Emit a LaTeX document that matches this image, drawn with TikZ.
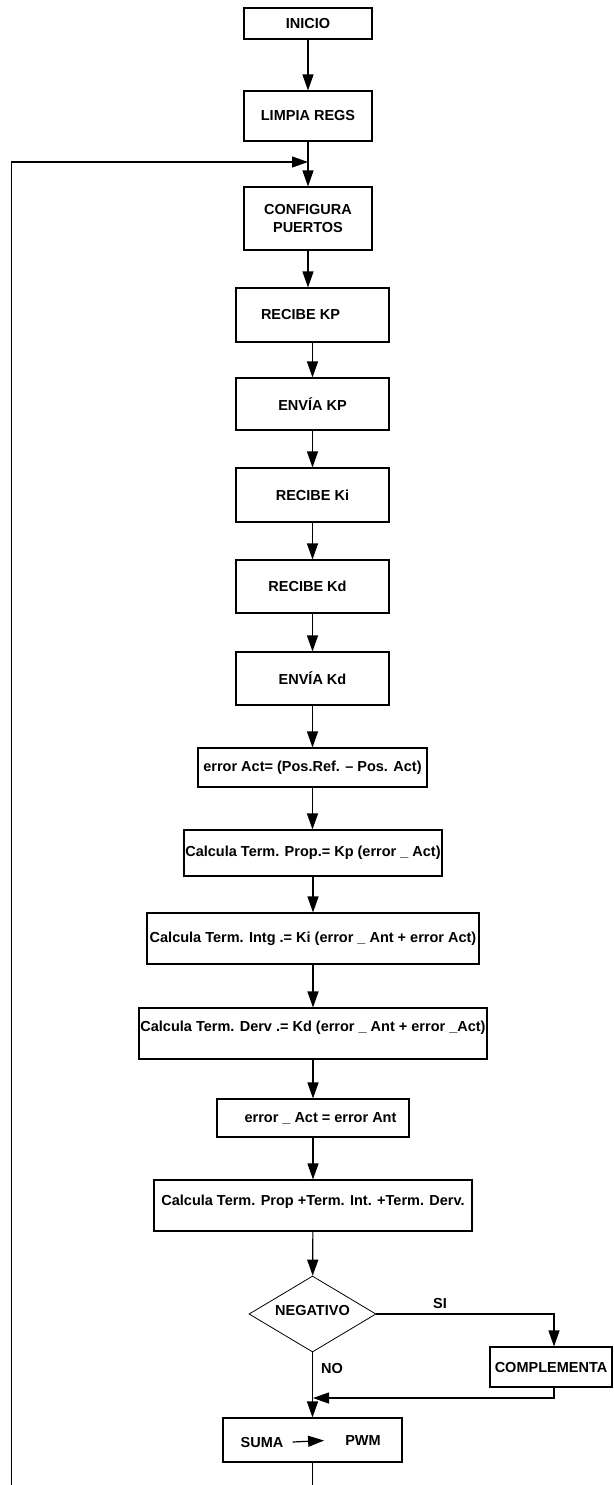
\documentclass[tikz,border=0pt]{standalone}
\usepackage{fontspec}
\setmainfont{Liberation Sans}
\usetikzlibrary{arrows.meta,shapes.geometric}
\newcommand{\upshift}[2]{\raisebox{#1}[\height][\depth]{#2}}
\tikzset{
  txt/.style={font=\fontsize{14.5}{17.5}\selectfont\bfseries, align=center},
  box/.style={draw, line width=1.1pt, inner sep=0pt, txt},
  plain/.style={inner sep=0pt, txt},
  ln/.style={line width=1.2pt},
  arr/.style={line width=1.2pt, -{Triangle[length=16pt,width=11pt]}}
}
\begin{document}
\begin{tikzpicture}[x=1pt,y=-1pt]
\useasboundingbox (0,0) rectangle (613,1485);
\fill[white] (0,0) rectangle (613,1485);
\begin{scope}
\clip (0,0) rectangle (613,1485);
% boxes
\node[box, minimum width=128pt, minimum height=31pt] (inicio) at (308,23.5) {INICIO};
\node[box, minimum width=128pt, minimum height=50pt] (limpia) at (308,116) {LIMPIA REGS};
\node[box, minimum width=128pt, minimum height=63pt] (config) at (308,218.5) {CONFIGURA\\PUERTOS};
\node[box, minimum width=153pt, minimum height=54pt] (recibekp) at (312.5,315) {RECIBE KP\hspace{24pt}};
\node[box, minimum width=153pt, minimum height=52pt] (enviakp) at (312.5,404) {ENVÍA KP};
\node[box, minimum width=153pt, minimum height=54pt] (recibeki) at (312.5,495) {RECIBE Ki};
\node[box, minimum width=153pt, minimum height=53pt] (recibekd) at (312.5,586.5) {RECIBE Kd\hspace{10pt}};
\node[box, minimum width=153pt, minimum height=53pt] (enviakd) at (312.5,678.5) {ENVÍA Kd};
\node[box, minimum width=229pt, minimum height=39pt] (erroract) at (312.5,767.5) {error Act= (Pos.Ref. – Pos. Act)};
\node[box, minimum width=258pt, minimum height=46pt] (prop) at (313,853) {Calcula Term. Prop.= Kp (error \_ Act)};
\node[box, minimum width=332pt, minimum height=51pt] (intg) at (313,938.5) {Calcula Term. Intg .= Ki (error \_ Ant + error Act)};
\node[box, minimum width=348pt, minimum height=51pt] (derv) at (313,1033.5) {\upshift{5.5pt}{Calcula Term. Derv .= Kd (error \_ Ant + error \_Act)}};
\node[box, minimum width=192pt, minimum height=38pt] (erreq) at (313,1118) {\hspace{15pt}error \_ Act = error Ant};
\node[box, minimum width=318pt, minimum height=51pt] (sum) at (313,1205.5) {\upshift{4pt}{Calcula Term. Prop +Term. Int. +Term. Derv.}};
\node[box, line width=0.8pt, diamond, aspect=1.67, minimum width=127pt, minimum height=76pt] (neg) at (312.5,1314) {\upshift{4pt}{NEGATIVO}};
\node[box, minimum width=122pt, minimum height=40pt] (comp) at (551,1367) {COMPLEMENTA};
\node[box, minimum width=179pt, minimum height=44pt] (suma) at (312.5,1440) {};
\node[plain] (sumat) at (262,1442) {SUMA};
\node[plain] (pwmt) at (363,1440.5) {PWM};
\node[plain] (si) at (440,1303.5) {SI};
\node[plain] (no) at (332,1368) {NO};
% helper coordinates
\coordinate (join) at (308,162);
\coordinate (bl) at (11.5,1520);
\coordinate (sic) at (554,1314);
\coordinate (ret) at (313,1398);
% connectors
\draw[arr] (inicio) -- (limpia);
\draw[arr] (limpia) -- (config);
\draw[arr] (config.south) -- (config.south |- recibekp.north);
\draw[arr] (recibekp) -- (enviakp);
\draw[arr] (enviakp) -- (recibeki);
\draw[arr] (recibeki) -- (recibekd);
\draw[arr] (recibekd) -- (enviakd);
\draw[arr] (enviakd) -- (enviakd.south |- erroract.north);
\draw[arr] (erroract) -- (erroract.south |- prop.north);
\draw[arr] (prop) -- (intg);
\draw[arr] (intg) -- (derv);
\draw[arr] (derv) -- (erreq);
\draw[arr] (erreq) -- (sum);
\draw[arr] (sum) -- (neg);
\draw[arr] (neg.east) -- (sic) -- (sic |- comp.north);
\draw[arr] (sic |- comp.south) |- (ret);
\draw[arr] (neg.south) -- (suma.north);
\draw[arr] ([xshift=9pt]sumat.east) -- ([xshift=-21pt]pwmt.west);
\draw[arr] (suma.south) |- (bl) |- (join);
\end{scope}
\end{tikzpicture}
\end{document}
